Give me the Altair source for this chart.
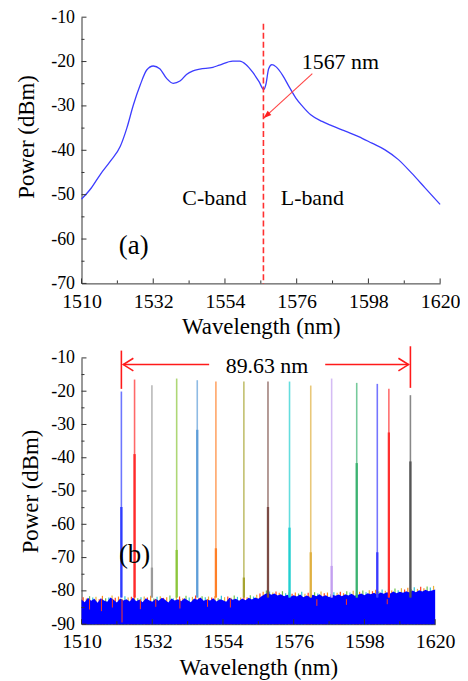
import altair as alt
import pandas as pd

FONT = "Liberation Serif"
AX = "#333333"
W_A, H_A = 361, 268
W_B, H_B = 356, 268

# ---------------- shared ticks ----------------
x_ticks = [1510, 1532, 1554, 1576, 1598, 1620]
x_minor = [1521, 1543, 1565, 1587, 1609]
ya_ticks = [-70, -60, -50, -40, -30, -20, -10]
ya_minor = [-65, -55, -45, -35, -25, -15]
yb_ticks = [-90, -80, -70, -60, -50, -40, -30, -20, -10]
yb_minor = [-85, -75, -65, -55, -45, -35, -25, -15]
XDOM = [1510, 1620]

# ---------------- panel (a) data ----------------
a_wl = [1510, 1513, 1515.8, 1518.8, 1521.9, 1523.9, 1525.9, 1528.0, 1530.0, 1532.0,
        1534.0, 1536.1, 1538.1, 1540.2, 1542.2, 1544.2, 1546.3, 1550.3, 1552.3, 1556.4,
        1558.5, 1560.5, 1562.5, 1564.5, 1565.9, 1566.6, 1567.4, 1568.4, 1569.7, 1571.7,
        1573.7, 1575.8, 1577.8, 1580.3, 1583.8, 1586.9, 1590.9, 1595.0, 1599.1, 1603.1,
        1607.2, 1611.2, 1615.3, 1620]
a_pw = [-51.0, -48.5, -45.4, -42.5, -39.1, -35.0, -29.8, -25.3, -21.9, -21.0,
        -21.6, -23.8, -24.9, -24.4, -22.9, -22.1, -21.7, -21.3, -20.8, -19.9,
        -19.9, -20.7, -22.4, -24.6, -26.3, -25.0, -21.6, -20.7, -21.2, -23.1,
        -25.7, -28.3, -30.1, -32.0, -33.5, -34.5, -35.7, -36.9, -38.4, -39.9,
        -42.1, -45.1, -48.4, -52.2]

split_wl = 1565.8
split_top = -11.5
arrow_a = {"x": 1580.8, "y": -22.7, "x2": 1565.8, "y2": -32.8}
a_labels = ["1567 nm", "C-band", "L-band"]
a_label_x = [1589.4, 1550.8, 1580.8]
a_label_y = [-20.1, -50.7, -50.7]

# ---------------- panel (b) data ----------------
laser_wl = [1522.4, 1526.5, 1531.9, 1539.6, 1546.0, 1551.8, 1560.5, 1568.0,
            1574.7, 1581.3, 1587.8, 1595.6, 1602.0, 1605.6, 1612.3]
laser_top = [-20.1, -16.5, -18.2, -16.2, -16.7, -17.1, -17.1, -17.1,
             -17.1, -18.3, -16.2, -17.5, -17.8, -19.3, -21.2]
laser_mid = [-54.8, -38.9, -73.0, -67.7, -31.6, -67.2, -76.0, -54.8,
             -61.0, -68.4, -72.5, -41.6, -68.4, -32.4, -41.1]
laser_col = ["#2f3cff", "#ff2a2a", "#9a9a9a", "#8cc63c", "#5f9ed8", "#ff7f27",
             "#a6a430", "#7b4b45", "#22cfd0", "#e0b040", "#c39ff0", "#3cb371",
             "#3a3aff", "#ff3030", "#555555"]
laser_base = -82.0

noise_wl = list(range(1510, 1621))
noise_floor = [
    -82.6, -83.4, -82.1, -83.0, -82.4, -83.6, -82.2, -82.9, -83.3, -82.0,
    -82.7, -83.5, -82.3, -82.9, -82.5, -83.2, -82.0, -83.1, -82.6, -83.4,
    -82.2, -82.8, -83.3, -82.4, -83.0, -82.1, -82.7, -83.5, -82.3, -82.9,
    -82.5, -83.1, -82.2, -82.8, -83.4, -82.3, -82.7, -82.0, -83.0, -82.6,
    -82.9, -82.2, -83.2, -82.5, -82.8, -83.3, -82.1, -82.7, -82.4, -83.0,
    -82.3, -82.8, -82.1, -82.6, -82.0, -82.4, -81.6, -81.0, -80.6, -81.2,
    -80.8, -81.4, -81.0, -81.6, -81.2, -81.8, -81.3, -81.7, -81.1, -81.9,
    -81.4, -81.8, -81.2, -81.6, -81.0, -81.7, -81.3, -81.9, -81.2, -81.5,
    -81.1, -81.6, -81.0, -81.4, -80.9, -81.5, -81.2, -80.8, -81.3, -80.7,
    -81.0, -80.6, -81.2, -80.5, -80.9, -80.4, -80.8, -80.2, -80.7, -80.3,
    -80.6, -80.1, -80.5, -79.9, -80.4, -79.8, -80.2, -79.7, -80.1, -79.9, -79.6]
spur_top = [
    -81.9, -82.3, -81.6, -82.0, -81.8, -82.5, -81.5, -82.2, -82.0, -81.4,
    -82.1, -81.7, -82.4, -81.6, -82.0, -81.8, -81.3, -82.2, -81.9, -81.7,
    -82.0, -81.5, -82.3, -81.8, -81.6, -82.1, -81.9, -81.4, -82.2, -81.8,
    -81.7, -82.2, -81.5, -82.0, -81.8, -81.4, -82.1, -81.6, -81.9, -81.7,
    -82.0, -81.6, -82.2, -81.5, -81.9, -81.7, -82.1, -81.4, -81.8, -82.0,
    -81.6, -81.9, -81.3, -81.7, -81.2, -80.8, -80.3, -79.9, -80.2, -80.5,
    -80.2, -80.6, -80.1, -80.7, -80.4, -80.9, -80.5, -80.8, -80.3, -80.9,
    -80.6, -80.9, -80.4, -80.8, -80.2, -80.7, -80.5, -81.0, -80.4, -80.6,
    -80.3, -80.7, -80.1, -80.5, -80.0, -80.6, -80.3, -79.9, -80.4, -79.8,
    -80.1, -79.7, -80.2, -79.6, -80.0, -79.4, -79.9, -79.3, -79.8, -79.2,
    -79.6, -79.1, -79.5, -78.9, -79.4, -78.8, -79.2, -78.7, -79.0, -78.5]
spur_palette = ["#ff3b1f", "#ff8c1a", "#6cc24a", "#2ec4d6", "#e8b23a"]
dip_wl = [1512.5, 1516.2, 1519.6, 1522.6, 1528.3, 1533.1, 1540.6, 1549.2, 1556.3, 1583.2, 1592.4, 1605.1]
dip_val = [-85.6, -86.1, -85.0, -89.5, -85.5, -84.8, -85.3, -84.8, -85.0, -84.5, -84.2, -84.0]

span_left, span_right = 1522.4, 1612.3
span_left_top, span_right_top = -7.8, -6.5
span_bar_bottom = [-19.3, -19.0]
span_y = -12.0
span_gap = [1549.7, 1585.8]
span_label = "89.63 nm"
span_label_x, span_label_y = 1567.7, -12.4

# ---------------- axes ----------------
lab_expr = "'' + datum.value"


def x_axis(title_y):
    return alt.Axis(values=x_ticks, title="Wavelength (nm)", ticks=False, tickSize=0,
                    labelPadding=8, labelFontSize=20, titleFontSize=23, titleY=title_y,
                    titleBaseline="middle", labelExpr=lab_expr, domainColor=AX)


def y_axis(vals, title_x, title_y=None):
    kw = dict(values=vals, title="Power (dBm)", ticks=False, tickSize=0,
              labelPadding=7, labelFontSize=18, titleFontSize=23, titleX=title_x,
              titleBaseline="middle", labelExpr=lab_expr, domainColor=AX)
    if title_y is not None:
        kw["titleY"] = title_y
    return alt.Axis(**kw)


AXA_X, AXA_Y = x_axis(43), y_axis(ya_ticks, -55, 120)
AXB_X, AXB_Y = x_axis(44), y_axis(yb_ticks, -51)

xa = alt.Scale(domain=XDOM, nice=False, zero=False)
ya = alt.Scale(domain=[-70, -10], nice=False, zero=False)
xb = alt.Scale(domain=XDOM, nice=False, zero=False)
yb = alt.Scale(domain=[-90, -10], nice=False, zero=False)


def X(field, sc, ax):
    return alt.X(field, scale=sc, axis=ax)


def Y(field, sc, ax):
    return alt.Y(field, scale=sc, axis=ax)


def xtick_rules(vals, length, H, xs, ax):
    return alt.Chart(pd.DataFrame({"x": vals})).mark_rule(color=AX, strokeWidth=1).encode(
        x=X("x:Q", xs, ax), y=alt.value(H), y2=alt.value(H - length))


def ytick_rules(vals, length, ys, ax):
    return alt.Chart(pd.DataFrame({"y": vals})).mark_rule(color=AX, strokeWidth=1).encode(
        y=Y("y:Q", ys, ax), x=alt.value(0), x2=alt.value(length))


def text_layer(df, size, xs, ys, axx, axy):
    return alt.Chart(df).mark_text(font=FONT, fontSize=size, color="black",
                                   align="center", baseline="middle").encode(
        x=X("x:Q", xs, axx), y=Y("y:Q", ys, axy), text="t:N")


# ---------------- panel (a) ----------------
curve = alt.Chart(pd.DataFrame({"x": a_wl, "y": a_pw})).mark_line(
    color="#3c3cff", strokeWidth=1.3, interpolate="monotone").encode(
    x=X("x:Q", xa, AXA_X), y=Y("y:Q", ya, AXA_Y))

split = alt.Chart(pd.DataFrame({"x": [split_wl], "y": [split_top], "y2": [-70]})).mark_rule(
    color="#ff3030", strokeWidth=1.6, strokeDash=[6, 3]).encode(
    x=X("x:Q", xa, AXA_X), y=Y("y:Q", ya, AXA_Y), y2="y2:Q")

arr = alt.Chart(pd.DataFrame([arrow_a])).mark_rule(color="#ff4444", strokeWidth=1.1).encode(
    x=X("x:Q", xa, AXA_X), x2="x2:Q", y=Y("y:Q", ya, AXA_Y), y2="y2:Q")
arr_head = alt.Chart(pd.DataFrame({"x": [arrow_a["x2"]], "y": [arrow_a["y2"]]})).mark_point(
    shape="M0,0L-1,3L1,3Z", filled=True, color="#ff2020", size=30, angle=228, opacity=1).encode(
    x=X("x:Q", xa, AXA_X), y=Y("y:Q", ya, AXA_Y))

a_text = text_layer(pd.DataFrame({"x": a_label_x, "y": a_label_y, "t": a_labels}),
                    22, xa, ya, AXA_X, AXA_Y)
a_tag = text_layer(pd.DataFrame({"x": [1526.0], "y": [-61.5], "t": ["(a)"]}),
                   27, xa, ya, AXA_X, AXA_Y)

panel_a = alt.layer(
    curve,
    xtick_rules(x_ticks, 5, H_A, xa, AXA_X), xtick_rules(x_minor, 3, H_A, xa, AXA_X),
    ytick_rules(ya_ticks, 5, ya, AXA_Y), ytick_rules(ya_minor, 3, ya, AXA_Y),
    split, arr, arr_head, a_text, a_tag
).properties(width=W_A, height=H_A)

# ---------------- panel (b) ----------------
spur_df = pd.DataFrame({
    "x": [w + 0.5 for w in noise_wl[:-1]],
    "y": spur_top,
    "y2": [-90] * len(spur_top),
    "c": [spur_palette[i % len(spur_palette)] for i in range(len(spur_top))]})
spurs = alt.Chart(spur_df).mark_rule(strokeWidth=1.2).encode(
    x=X("x:Q", xb, AXB_X), y=Y("y:Q", yb, AXB_Y), y2="y2:Q",
    color=alt.Color("c:N", scale=None))

floor_df = pd.DataFrame({"x": noise_wl, "y": noise_floor, "b": [-90] * len(noise_wl)})
floor = alt.Chart(floor_df).mark_area(color="#0000ff", opacity=1, interpolate="linear").encode(
    x=X("x:Q", xb, AXB_X), y=Y("y:Q", yb, AXB_Y), y2="b:Q")

dips = alt.Chart(pd.DataFrame({"x": dip_wl, "y": dip_val, "y2": [-82.5] * len(dip_wl)})).mark_rule(
    color="#ff3b1f", strokeWidth=1).encode(
    x=X("x:Q", xb, AXB_X), y=Y("y:Q", yb, AXB_Y), y2="y2:Q")

laser_df = pd.DataFrame({"x": laser_wl, "y": laser_top, "mid": laser_mid,
                         "b": [laser_base] * len(laser_wl), "c": laser_col})
laser_thin = alt.Chart(laser_df).mark_rule(strokeWidth=1.6, opacity=0.7).encode(
    x=X("x:Q", xb, AXB_X), y=Y("y:Q", yb, AXB_Y), y2="b:Q",
    color=alt.Color("c:N", scale=None))
laser_thick = alt.Chart(laser_df).mark_rule(strokeWidth=2.3, opacity=1).encode(
    x=X("x:Q", xb, AXB_X), y=Y("mid:Q", yb, AXB_Y), y2="b:Q",
    color=alt.Color("c:N", scale=None))

bars_df = pd.DataFrame({"x": [span_left, span_right], "y": [span_left_top, span_right_top],
                        "y2": span_bar_bottom})
span_bars = alt.Chart(bars_df).mark_rule(color="#ff1a1a", strokeWidth=1.6).encode(
    x=X("x:Q", xb, AXB_X), y=Y("y:Q", yb, AXB_Y), y2="y2:Q")
seg_df = pd.DataFrame({"x": [span_left + 0.6, span_gap[1]], "x2": [span_gap[0], span_right - 0.6],
                       "y": [span_y, span_y]})
span_lines = alt.Chart(seg_df).mark_rule(color="#ff1a1a", strokeWidth=1.6).encode(
    x=X("x:Q", xb, AXB_X), x2="x2:Q", y=Y("y:Q", yb, AXB_Y))
head_l = alt.Chart(pd.DataFrame({"x": [span_left + 0.6], "y": [span_y]})).mark_point(
    shape="M1.6,-1L0,0L1.6,1", filled=False, color="#ff1a1a", strokeWidth=1.6, size=160,
    opacity=1).encode(x=X("x:Q", xb, AXB_X), y=Y("y:Q", yb, AXB_Y))
head_r = alt.Chart(pd.DataFrame({"x": [span_right - 0.6], "y": [span_y]})).mark_point(
    shape="M-1.6,-1L0,0L-1.6,1", filled=False, color="#ff1a1a", strokeWidth=1.6, size=160,
    opacity=1).encode(x=X("x:Q", xb, AXB_X), y=Y("y:Q", yb, AXB_Y))

b_text = text_layer(pd.DataFrame({"x": [span_label_x], "y": [span_label_y], "t": [span_label]}),
                    22, xb, yb, AXB_X, AXB_Y)
b_tag = text_layer(pd.DataFrame({"x": [1526.5], "y": [-69.2], "t": ["(b)"]}),
                   27, xb, yb, AXB_X, AXB_Y)

panel_b = alt.layer(
    spurs, floor, dips, laser_thin, laser_thick,
    xtick_rules(x_ticks, 5, H_B, xb, AXB_X), xtick_rules(x_minor, 3, H_B, xb, AXB_X),
    ytick_rules(yb_ticks, 5, yb, AXB_Y), ytick_rules(yb_minor, 3, yb, AXB_Y),
    span_bars, span_lines, head_l, head_r, b_text, b_tag
).properties(width=W_B, height=H_B)

chart = alt.vconcat(panel_a, panel_b, spacing=7).properties(
    padding={"left": 7, "top": -2, "right": 0, "bottom": 0}
).configure(font=FONT).configure_view(stroke=None).configure_axis(
    labelFont=FONT, titleFont=FONT, labelColor="black", titleColor="black",
    grid=False, titleFontWeight="normal", labelFlush=False, domainWidth=1)

chart.save("out.html", embed_options={"renderer": "svg", "actions": False})
